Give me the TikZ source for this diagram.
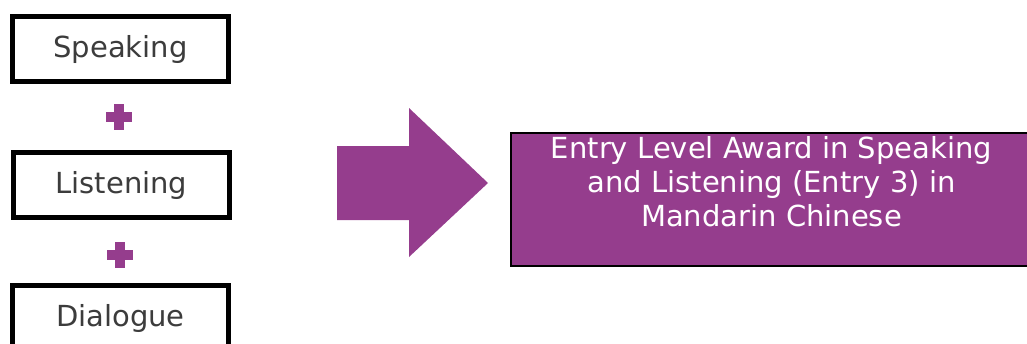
\documentclass[tikz,border=0pt]{standalone}
\usepackage{fontspec}
\setmainfont{DejaVu Sans}
\usetikzlibrary{positioning}

\definecolor{awardpurple}{RGB}{149,61,141}
\definecolor{partgrey}{RGB}{60,60,60}

\tikzset{
  partbox/.style={draw=black, line width=5.2pt, fill=white, inner sep=0pt,
    minimum width=215.8pt, minimum height=64.8pt, text=partgrey,
    font=\fontsize{29}{34}\selectfont},
  awardbox/.style={draw=black, line width=2.2pt, fill=awardpurple, inner sep=0pt,
    minimum width=521pt, minimum height=133pt},
  awardtext/.style={text=white, align=center, inner sep=0pt,
    font=\fontsize{29}{34}\selectfont},
  plusbar/.style={fill=awardpurple}
}

\begin{document}
\begin{tikzpicture}[x=1pt,y=-1pt]
	\useasboundingbox (0,0) rectangle (1027,343);

	% the three parts
	\node[partbox] (speaking)  at (120.5,49)  {Speaking};
	\node[partbox] (listening) at (121.5,185) {Listening};
	\node[partbox] (dialogue)  at (120.5,318) {Dialogue};

	% plus signs
	\foreach \px/\py in {118.5/117, 120/254.5} {
	  \fill[plusbar] (\px-13,\py-5) rectangle (\px+13,\py+5);
	  \fill[plusbar] (\px-5,\py-13) rectangle (\px+5,\py+13);
	}

	% big arrow
	\fill[awardpurple] (337,146) -- (409,146) -- (409,108) -- (488,183)
	  -- (409,257) -- (409,220) -- (337,220) -- cycle;

	% the award
	\node[awardbox] (award) at (771.5,199.5) {};
	\node[awardtext, anchor=north] (awardname) at (771.5,136)
	  {Entry Level Award in Speaking\\and Listening (Entry 3) in\\Mandarin Chinese};
\end{tikzpicture}
\end{document}
